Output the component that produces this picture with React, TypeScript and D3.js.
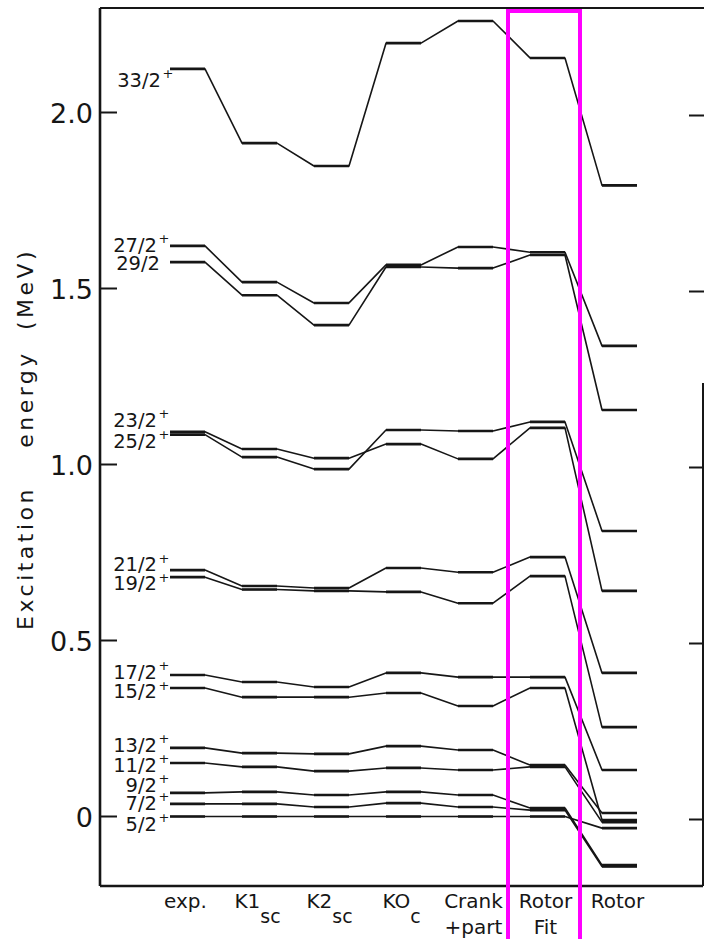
import React from "react";
import * as d3 from "d3";

// Columns (models) of the level scheme
const columns = ["exp", "K1sc", "K2sc", "KOc", "Crank", "RotorFit", "Rotor"];
const colMain = ["exp.", "K1", "K2", "KO", "Crank", "Rotor", "Rotor"];
const colSub = ["", "sc", "sc", "c", "", "", ""];
const colLine2 = ["", "", "", "", "+part", "Fit", ""];

// Excitation energies (MeV) per spin, one value per column
const lv33_2 = [2.124, 1.913, 1.848, 2.197, 2.26, 2.155, 1.793];
const lv27_2 = [1.621, 1.518, 1.459, 1.567, 1.618, 1.603, 1.337];
const lv29_2 = [1.575, 1.481, 1.396, 1.561, 1.558, 1.595, 1.155];
const lv23_2 = [1.093, 1.044, 1.018, 1.058, 1.016, 1.104, 0.641];
const lv25_2 = [1.085, 1.021, 0.987, 1.098, 1.095, 1.121, 0.811];
const lv21_2 = [0.7, 0.655, 0.649, 0.706, 0.694, 0.737, 0.408];
const lv19_2 = [0.68, 0.645, 0.641, 0.638, 0.606, 0.683, 0.254];
const lv17_2 = [0.402, 0.382, 0.368, 0.408, 0.396, 0.396, 0.132];
const lv15_2 = [0.365, 0.339, 0.339, 0.351, 0.314, 0.365, -0.01];
const lv13_2 = [0.195, 0.18, 0.178, 0.2, 0.189, 0.146, 0.01];
const lv11_2 = [0.152, 0.141, 0.129, 0.138, 0.132, 0.141, -0.016];
const lv9_2 = [0.067, 0.07, 0.061, 0.07, 0.061, 0.024, -0.138];
const lv7_2 = [0.036, 0.036, 0.027, 0.038, 0.027, 0.018, -0.142];
const lv5_2 = [0, 0, 0, 0, 0, 0, -0.033];

const spinNames = ["33/2", "27/2", "29/2", "23/2", "25/2", "21/2", "19/2", "17/2", "15/2", "13/2", "11/2", "9/2", "7/2", "5/2"];
const spinParity = ["+", "+", "", "+", "+", "+", "+", "+", "+", "+", "+", "+", "+", "+"];
const spinLevels = [lv33_2, lv27_2, lv29_2, lv23_2, lv25_2, lv21_2, lv19_2, lv17_2, lv15_2, lv13_2, lv11_2, lv9_2, lv7_2, lv5_2];
// vertical offsets of the spin labels relative to their exp. level (layout only)
const labelDy = [18, 6, 8, -5, 13, 1, 13, 4, 10, 4, 9, -1, 6, 14];
const labelDx = [4, 0, 3, 0, 0, 0, 0, 0, 0, 0, 0, 0, 0, 0];

const yTicks = [0, 0.5, 1.0, 1.5, 2.0];
const yTickLabels = ["0", "0.5", "1.0", "1.5", "2.0"];

const W = 704;
const H = 939;
const left = 100;
const right = 703;
const top = 8;
const bottom = 886;
const halfW = 17.5;
const ink = "#161616";
const font = "'DejaVu Sans', sans-serif";

export default function App() {
  const y = d3.scaleLinear().domain([0, 2]).range([816.5, 112.5]);
  const x = d3.scalePoint<string>().domain(columns).range([187.5, 619.5]);
  const line = d3.line<[number, number]>().x((d) => d[0]).y((d) => d[1]);

  const paths = spinLevels.map((vals) => {
    const pts: [number, number][] = [];
    vals.forEach((v, i) => {
      const cx = x(columns[i]) as number;
      pts.push([cx - halfW, y(v)]);
      pts.push([cx + halfW, y(v)]);
    });
    return line(pts) as string;
  });

  return (
    <svg width={W} height={H} style={{ position: "absolute", left: 0, top: 0, background: "#fff" }}>
      <rect x={0} y={0} width={W} height={H} fill="#fff" />
      {/* frame */}
      <line x1={left} y1={top} x2={left} y2={bottom} stroke={ink} strokeWidth={2.6} />
      <line x1={left} y1={top} x2={W} y2={top} stroke={ink} strokeWidth={2} />
      <line x1={left} y1={bottom} x2={right} y2={bottom} stroke={ink} strokeWidth={2.4} />
      <line x1={right} y1={383} x2={right} y2={bottom} stroke={ink} strokeWidth={2} />
      {yTicks.map((t, i) => (
        <g key={"t" + i}>
          <line x1={left} x2={left + 17} y1={y(t)} y2={y(t)} stroke={ink} strokeWidth={2} />
          <line x1={right - 14} x2={right + 2} y1={y(t) + 3} y2={y(t) + 3} stroke={ink} strokeWidth={2} />
          <text x={93} y={y(t) + 10} textAnchor="end" fontFamily={font} fontSize={27} fill={ink}>
            {yTickLabels[i]}
          </text>
        </g>
      ))}
      {/* axis title */}
      <g transform="rotate(-90)" fontFamily={font} fontSize={22} fill={ink} letterSpacing={3.5}>
        <text x={-558} y={33} textAnchor="middle">Excitation</text>
        <text x={-399} y={33} textAnchor="middle">energy</text>
        <text x={-289} y={33} textAnchor="middle">(MeV)</text>
      </g>
      {/* level lines */}
      {paths.map((p, i) => (
        <path key={"p" + i} d={p} fill="none" stroke={ink} strokeWidth={1.6} strokeLinejoin="round" />
      ))}
      {spinLevels.map((vals, si) =>
        vals.map((v, i) => {
          const cx = x(columns[i]) as number;
          return (
            <line key={"l" + si + "-" + i} x1={cx - halfW} x2={cx + halfW} y1={y(v)} y2={y(v)} stroke={ink} strokeWidth={2.6} />
          );
        })
      )}
      {/* spin labels */}
      {spinNames.map((s, i) => {
        const yy = y(spinLevels[i][0]) + labelDy[i];
        const xe = 157 + labelDx[i];
        return (
          <g key={"s" + i} fontFamily={font} fill={ink}>
            <text x={xe} y={yy} textAnchor="end" fontSize={19.5}>
              {s}
            </text>
            {spinParity[i] && (
              <text x={xe + 1.5} y={yy - 8.5} fontSize={13}>
                {spinParity[i]}
              </text>
            )}
          </g>
        );
      })}
      {/* column labels */}
      {columns.map((c, i) => {
        const cx = (x(c) as number) - 2;
        return (
          <g key={"c" + i} fontFamily={font} fill={ink} fontSize={20}>
            <text x={cx} y={908} textAnchor="middle">
              {colMain[i]}
              {colSub[i] && (
                <tspan dy={15} fontSize={19}>
                  {colSub[i]}
                </tspan>
              )}
            </text>
            {colLine2[i] && (
              <text x={cx} y={934} textAnchor="middle">
                {colLine2[i]}
              </text>
            )}
          </g>
        );
      })}
      {/* highlight box */}
      <rect x={508} y={11} width={72} height={940} fill="none" stroke="#ff00ff" strokeWidth={4} />
    </svg>
  );
}
